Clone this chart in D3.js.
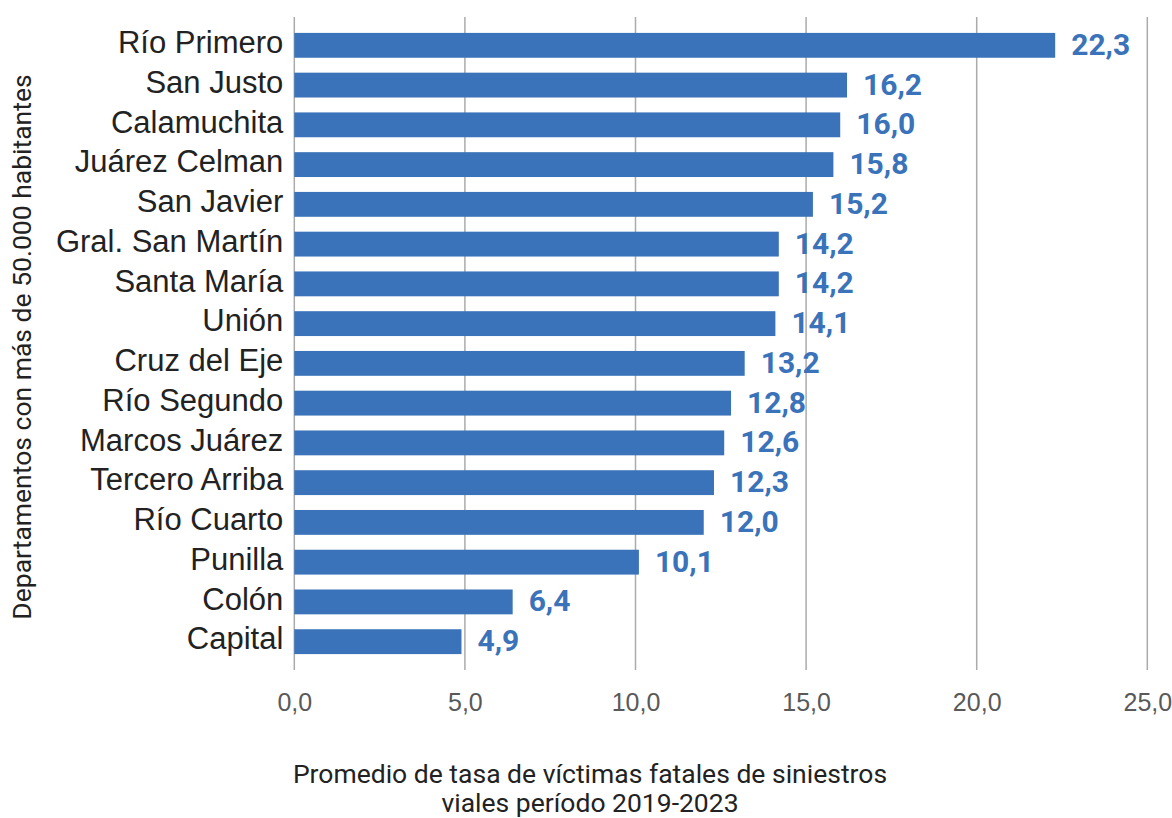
<!DOCTYPE html>
<html>
<head>
<meta charset="utf-8">
<script src="https://cdnjs.cloudflare.com/ajax/libs/d3/7.8.5/d3.min.js"></script>
<style>
  body { margin: 0; background: #fff; }
  svg { font-family: Roboto, "Noto Sans", sans-serif; }
</style>
</head>
<body>
<script>
var departamentos = ["Río Primero", "San Justo", "Calamuchita", "Juárez Celman", "San Javier",
  "Gral. San Martín", "Santa María", "Unión", "Cruz del Eje", "Río Segundo",
  "Marcos Juárez", "Tercero Arriba", "Río Cuarto", "Punilla", "Colón", "Capital"];
var tasas = [22.3, 16.2, 16.0, 15.8, 15.2, 14.2, 14.2, 14.1, 13.2, 12.8, 12.6, 12.3, 12.0, 10.1, 6.4, 4.9];
var ticks = [0, 5, 10, 15, 20, 25];

var width = 1172, height = 818;
var plotLeft = 294.3, plotRight = 1147.3, plotTop = 17, plotBottom = 670;
var blue = "#3A73B9";

var data = departamentos.map(function (d, i) { return { name: d, value: tasas[i] }; });

var svg = d3.select("body").append("svg")
  .attr("width", width)
  .attr("height", height);

var x = d3.scaleLinear().domain([0, 25]).range([plotLeft, plotRight]);
var y = d3.scaleBand().domain(departamentos).range([plotTop, plotBottom])
  .paddingInner(0.375).paddingOuter(0.4);

var comma = function (v) { return d3.format(".1f")(v).replace(".", ","); };

// grid
svg.append("g").selectAll("line")
  .data(ticks).enter().append("line")
  .attr("x1", d => x(d)).attr("x2", d => x(d))
  .attr("y1", plotTop).attr("y2", plotBottom)
  .attr("stroke", "#ababab")
  .attr("stroke-width", 1.5);

// x tick labels
var xAxis = d3.axisBottom(x).tickValues(ticks).tickFormat(comma).tickSize(0).tickPadding(0);
var gx = svg.append("g").attr("transform", "translate(0," + 711 + ")").call(xAxis);
gx.select(".domain").remove();
gx.selectAll("text")
  .attr("y", 0).attr("dy", 0)
  .attr("fill", "#595959")
  .style("font-size", "25px");

// bars
svg.append("g").selectAll("rect")
  .data(data).enter().append("rect")
  .attr("x", x(0))
  .attr("y", d => y(d.name))
  .attr("width", d => x(d.value) - x(0))
  .attr("height", y.bandwidth())
  .attr("fill", blue);

// value labels
svg.append("g").selectAll("text")
  .data(data).enter().append("text")
  .attr("x", d => x(d.value) + 16)
  .attr("y", d => y(d.name) + y.bandwidth() / 2 + 9.5)
  .attr("fill", blue)
  .style("font-size", "30px")
  .style("font-weight", "bold")
  .text(d => comma(d.value));

// category labels
var yAxis = d3.axisLeft(y).tickSize(0).tickPadding(11);
var gy = svg.append("g").attr("transform", "translate(" + plotLeft + ",0)").call(yAxis);
gy.select(".domain").remove();
gy.selectAll("text")
  .attr("dy", "0.25em")
  .attr("fill", "#222")
  .style("font-size", "31px");

// axis titles
var xt = svg.append("text")
  .attr("text-anchor", "middle")
  .attr("fill", "#222")
  .style("font-size", "26.5px");
xt.append("tspan").attr("x", 590).attr("y", 783).text("Promedio de tasa de víctimas fatales de siniestros");
xt.append("tspan").attr("x", 590).attr("y", 812).text("viales período 2019-2023");

svg.append("text")
  .attr("transform", "translate(31,347) rotate(-90)")
  .attr("text-anchor", "middle")
  .attr("fill", "#222")
  .style("font-size", "26.5px")
  .text("Departamentos con más de 50.000 habitantes");
</script>
</body>
</html>
